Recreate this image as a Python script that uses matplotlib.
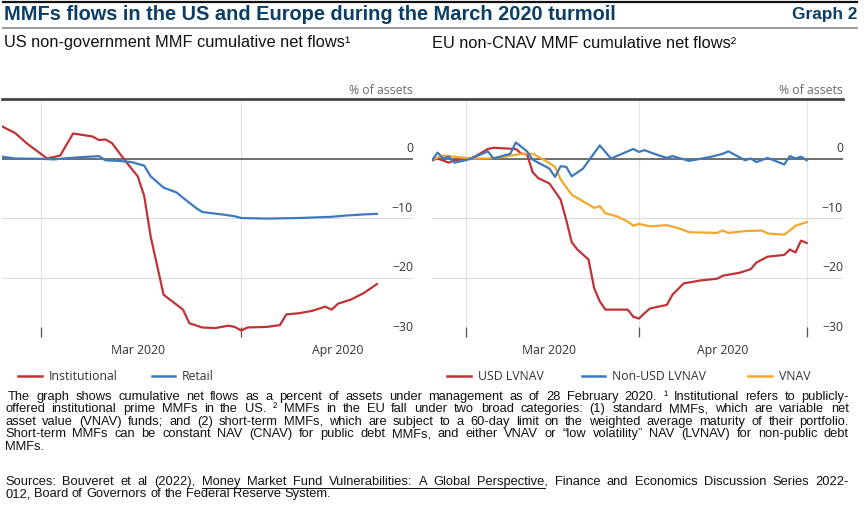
import matplotlib
matplotlib.use("Agg")
import matplotlib.pyplot as plt
import numpy as np
from matplotlib.lines import Line2D
from matplotlib.font_manager import FontProperties

W, H = 865, 515

# ---- data ----
inst_dates = ["2020-02-24", "2020-02-26", "2020-02-28", "2020-03-02", "2020-03-04",
              "2020-03-06", "2020-03-09", "2020-03-10", "2020-03-11", "2020-03-12",
              "2020-03-14", "2020-03-16", "2020-03-17", "2020-03-18", "2020-03-20",
              "2020-03-23", "2020-03-24", "2020-03-26", "2020-03-28", "2020-03-30",
              "2020-03-31", "2020-04-01", "2020-04-02", "2020-04-05", "2020-04-07",
              "2020-04-08", "2020-04-10", "2020-04-12", "2020-04-14", "2020-04-15",
              "2020-04-16", "2020-04-18", "2020-04-20", "2020-04-22"]
inst_vals = [5.4, 4.3, 2.4, 0.0, 0.5, 4.2, 3.7, 3.1, 3.2, 2.6,
             -0.3, -3.0, -6.3, -13.1, -22.9, -25.4, -27.7, -28.4, -28.5, -28.1,
             -28.3, -28.9, -28.4, -28.3, -28.0, -26.2, -26.0, -25.6, -24.9, -25.4,
             -24.4, -23.7, -22.6, -21.1]

retail_dates = ["2020-02-24", "2020-02-26", "2020-03-01", "2020-03-03", "2020-03-05",
                "2020-03-07", "2020-03-10", "2020-03-11", "2020-03-13", "2020-03-15",
                "2020-03-17", "2020-03-18", "2020-03-20", "2020-03-22", "2020-03-23",
                "2020-03-25", "2020-03-26", "2020-03-29", "2020-03-31", "2020-04-01",
                "2020-04-05", "2020-04-10", "2020-04-15", "2020-04-17", "2020-04-20",
                "2020-04-22"]
retail_vals = [0.3, 0.0, -0.05, -0.15, 0.05, 0.2, 0.4, -0.3, -0.4, -0.6,
               -1.2, -3.0, -4.9, -5.7, -6.6, -8.3, -9.0, -9.4, -9.7, -10.0,
               -10.1, -10.0, -9.8, -9.6, -9.4, -9.3]

usd_dates = ["2020-02-24", "2020-02-25", "2020-02-27", "2020-02-28", "2020-03-02",
             "2020-03-03", "2020-03-05", "2020-03-06", "2020-03-10", "2020-03-11",
             "2020-03-12", "2020-03-13", "2020-03-14", "2020-03-16", "2020-03-18",
             "2020-03-19", "2020-03-20", "2020-03-21", "2020-03-23", "2020-03-24",
             "2020-03-25", "2020-03-26", "2020-03-30", "2020-03-31", "2020-04-01",
             "2020-04-02", "2020-04-03", "2020-04-06", "2020-04-07", "2020-04-09",
             "2020-04-12", "2020-04-15", "2020-04-16", "2020-04-19", "2020-04-21",
             "2020-04-22", "2020-04-24", "2020-04-27", "2020-04-28", "2020-04-29",
             "2020-04-30", "2020-05-01"]
usd_vals = [-0.3, 0.0, -0.7, -0.3, 0.0, 0.5, 1.6, 1.8, 1.6, 0.8,
            0.7, -2.3, -3.3, -4.2, -6.9, -10.3, -14.1, -15.3, -17.0, -21.8,
            -24.0, -25.4, -25.4, -26.6, -26.9, -26.0, -25.2, -24.6, -22.9, -21.0,
            -20.5, -20.2, -19.7, -19.2, -18.6, -17.5, -16.5, -16.2, -15.3, -15.8,
            -13.8, -14.2]

nonusd_dates = ["2020-02-24", "2020-02-25", "2020-02-26", "2020-02-27", "2020-02-28",
                "2020-03-01", "2020-03-02", "2020-03-05", "2020-03-06", "2020-03-09",
                "2020-03-10", "2020-03-12", "2020-03-13", "2020-03-16", "2020-03-17",
                "2020-03-18", "2020-03-19", "2020-03-20", "2020-03-22", "2020-03-23",
                "2020-03-25", "2020-03-27", "2020-03-29", "2020-03-31", "2020-04-01",
                "2020-04-02", "2020-04-04", "2020-04-06", "2020-04-07", "2020-04-10",
                "2020-04-14", "2020-04-16", "2020-04-17", "2020-04-20", "2020-04-21",
                "2020-04-22", "2020-04-24", "2020-04-27", "2020-04-28", "2020-04-29",
                "2020-04-30", "2020-05-01"]
nonusd_vals = [-0.3, 1.0, 0.0, 0.3, -0.7, -0.3, 0.0, 1.2, 0.0, 0.8,
               2.7, 1.2, -0.2, -1.7, -3.1, -1.3, -1.4, -3.0, -1.7, -0.4,
               2.2, 0.0, 0.8, 1.6, 1.1, 1.4, 0.7, 0.1, 0.4, -0.4,
               0.3, 0.8, 1.2, -0.3, 0.0, -0.6, 0.1, -1.0, 0.4, 0.0,
               0.3, -0.3]

vnav_dates = ["2020-02-24", "2020-02-26", "2020-02-28", "2020-03-02", "2020-03-05",
              "2020-03-08", "2020-03-11", "2020-03-13", "2020-03-15", "2020-03-17",
              "2020-03-18", "2020-03-20", "2020-03-22", "2020-03-24", "2020-03-25",
              "2020-03-26", "2020-03-28", "2020-03-30", "2020-03-31", "2020-04-01",
              "2020-04-03", "2020-04-06", "2020-04-08", "2020-04-10", "2020-04-15",
              "2020-04-16", "2020-04-17", "2020-04-20", "2020-04-23", "2020-04-24",
              "2020-04-27", "2020-04-28", "2020-04-29", "2020-05-01"]
vnav_vals = [-0.2, 0.5, 0.3, 0.0, 0.0, 0.3, 0.8, 0.8, -0.2, -1.4,
             -3.5, -6.1, -7.2, -8.3, -8.0, -9.2, -9.7, -10.6, -11.3, -11.0,
             -11.4, -11.2, -11.7, -12.4, -12.5, -12.1, -12.5, -12.2, -12.1, -12.6,
             -12.8, -12.1, -11.3, -10.7]

y_ticks = [0, -10, -20, -30]
y_labels = ["0", "\u221210", "\u221220", "\u221230"]

RED = "#bf3336"
BLUE = "#3d79bd"
ORANGE = "#f5a729"
NAVY = "#0b3d66"
SANS = "Liberation Sans"
UI = "Open Sans"


def fx(x):
    return x / W


def fy(y):
    return 1 - y / H


fig = plt.figure(figsize=(W / 100, H / 100), dpi=100)
rend = fig.canvas.get_renderer()


def text_w(s, family, size, weight="normal"):
    prop = FontProperties(family=family, size=size, weight=weight)
    w, _, _ = rend.get_text_width_height_descent(s, prop, ismath=False)
    return w


def hline(x0, x1, y, color, lw):
    fig.add_artist(Line2D([fx(x0), fx(x1)], [fy(y), fy(y)], color=color, lw=lw,
                          transform=fig.transFigure))


# ---- header ----
hline(3, 857, 2, "#111111", 1.6)
title_s = "MMFs flows in the US and Europe during the March 2020 turmoil"
title_fs = 13 * 612 / text_w(title_s, SANS, 13, "bold")
fig.text(fx(4), fy(15), title_s, family=SANS, weight="bold", color=NAVY,
         fontsize=title_fs, va="center")
fig.text(fx(857), fy(15), "Graph 2", family=SANS, weight="bold", color=NAVY,
         fontsize=title_fs * 0.86, va="center", ha="right")
hline(3, 857, 28, "#8a8a8a", 1.2)

pt1_s = "US non-government MMF cumulative net flows\u00b9"
pt_fs = 10 * 346 / text_w(pt1_s, SANS, 10)
fig.text(fx(4), fy(43), pt1_s, family=SANS, fontsize=pt_fs, va="center", color="#111111")
fig.text(fx(432), fy(43), "EU non-CNAV MMF cumulative net flows\u00b2",
         family=SANS, fontsize=pt_fs, va="center", color="#111111")

# ---- panels ----
ax1 = fig.add_axes([fx(2), fy(337), fx(413 - 2), (337 - 99) / H])
ax2 = fig.add_axes([fx(432), fy(337), fx(843 - 432), (337 - 99) / H])

d = lambda s: np.array(s, dtype="datetime64[D]")

ax1.plot(d(inst_dates), inst_vals, color=RED, lw=1.6, zorder=3)
ax1.plot(d(retail_dates), retail_vals, color=BLUE, lw=1.6, zorder=3)
ax1.set_xlim(np.datetime64("2020-02-24"), np.datetime64("2020-04-27") + np.timedelta64(14, "h"))
month_edges1 = d(["2020-03-01", "2020-04-01"])

ax2.plot(d(usd_dates), usd_vals, color=RED, lw=1.6, zorder=3)
ax2.plot(d(nonusd_dates), nonusd_vals, color=BLUE, lw=1.6, zorder=4)
ax2.plot(d(vnav_dates), vnav_vals, color=ORANGE, lw=1.6, zorder=3)
ax2.set_xlim(np.datetime64("2020-02-24"), np.datetime64("2020-05-07") + np.timedelta64(12, "h"))
month_edges2 = d(["2020-03-01", "2020-04-01", "2020-05-01"])

for ax, edges, right_px in [(ax1, month_edges1, 413), (ax2, month_edges2, 843)]:
    ax.set_ylim(-30, 10)
    for s in ax.spines.values():
        s.set_visible(False)
    ax.set_yticks(y_ticks)
    ax.yaxis.grid(True, color="#dcdcdc", lw=0.8)
    ax.tick_params(axis="y", length=0, labelleft=False)
    ax.axhline(0, color="#5a5a5a", lw=1.2, zorder=2)
    for v, lab in zip(y_ticks, y_labels):
        ax.annotate(lab, xy=(1.0, v), xycoords=ax.get_yaxis_transform(),
                    xytext=(0, 2.5), textcoords="offset points", ha="right", va="bottom",
                    family=UI, fontsize=8.8, color="#333333")
    ax.set_xticks(edges, minor=True)
    ax.set_xticks(d(["2020-03-16", "2020-04-16"]))
    ax.set_xticklabels(["Mar 2020", "Apr 2020"], family=UI, fontsize=8.8, color="#333333")
    ax.tick_params(axis="x", which="major", length=0, pad=5)
    ax.tick_params(axis="x", which="minor", direction="in", length=7, width=0.9, color="#555555")
    ax.xaxis.grid(True, which="minor", color="#e3e3e3", lw=0.8)
    ax.set_axisbelow(True)
    ax.set_facecolor("none")
    fig.text(fx(right_px), fy(90), "% of assets", family=UI, fontsize=8.8,
             color="#6a6a6a", ha="right", va="center")

hline(2, 843, 99, "#444444", 2.0)

# ---- legends ----
legend_items = [
    (18, 42, RED, "Institutional"), (152, 175, BLUE, "Retail"),
    (447, 471, RED, "USD LVNAV"), (582, 605, BLUE, "Non-USD LVNAV"),
    (748, 772, ORANGE, "VNAV"),
]
for x0, x1, col, lab in legend_items:
    hline(x0, x1, 376, col, 1.8)
    fig.text(fx(x1 + 7), fy(376), lab, family=UI, fontsize=8.8, color="#333333",
             va="center")

# ---- footnotes (justified) ----
notes = [
    "The graph shows cumulative net flows as a percent of assets under management as of 28 February 2020.  \u00b9 Institutional refers to publicly-",
    "offered institutional prime MMFs in the US. \u00b2 MMFs in the EU fall under two broad categories: (1) standard MMFs, which are variable net",
    "asset value (VNAV) funds; and (2) short-term MMFs, which are subject to a 60-day limit on the weighted average maturity of their portfolio.",
    "Short-term MMFs can be constant NAV (CNAV) for public debt MMFs, and either VNAV or \u201clow volatility\u201d NAV (LVNAV) for non-public debt",
    "MMFs.",
]
sources = [
    "Sources: Bouveret et al (2022), Money Market Fund Vulnerabilities: A Global Perspective, Finance and Economics Discussion Series 2022-",
    "012, Board of Governors of the Federal Reserve System.",
]
FX0, FX1 = 5, 849
LINE = 12.4

# largest size that still fits the width and keeps line boxes from touching
fs = 9.0
widest = max(text_w(s, SANS, fs) for s in notes[:-1] + sources[:1])
fs = min(9.3, fs * (FX1 - FX0 - 5) / widest)
space_w = text_w("a b", SANS, fs) - text_w("ab", SANS, fs)


def put_line(s, y, justify, x0=FX0, underline=None):
    words = s.split()
    widths = [text_w(w, SANS, fs) for w in words]
    gap = space_w
    if justify and len(words) > 1:
        gap = (FX1 - x0 - sum(widths)) / (len(words) - 1)
    x = x0
    pos = []
    for w, wd in zip(words, widths):
        fig.text(fx(x), fy(y), w, family=SANS, fontsize=fs, va="center", color="#111111")
        pos.append(x)
        x += wd + gap
    if underline:
        i0, i1 = underline
        end = pos[i1] + text_w(words[i1].rstrip(","), SANS, fs)
        hline(pos[i0], end, y + 5.5, "#111111", 0.7)


for i, s in enumerate(notes):
    put_line(s, 397 + i * LINE, justify=(i < len(notes) - 1), x0=FX0 + (3 if i == 0 else 0))
put_line(sources[0], 482, True, underline=(5, 11))
put_line(sources[1], 482 + LINE, False)

fig.savefig("out.png", dpi=100)
